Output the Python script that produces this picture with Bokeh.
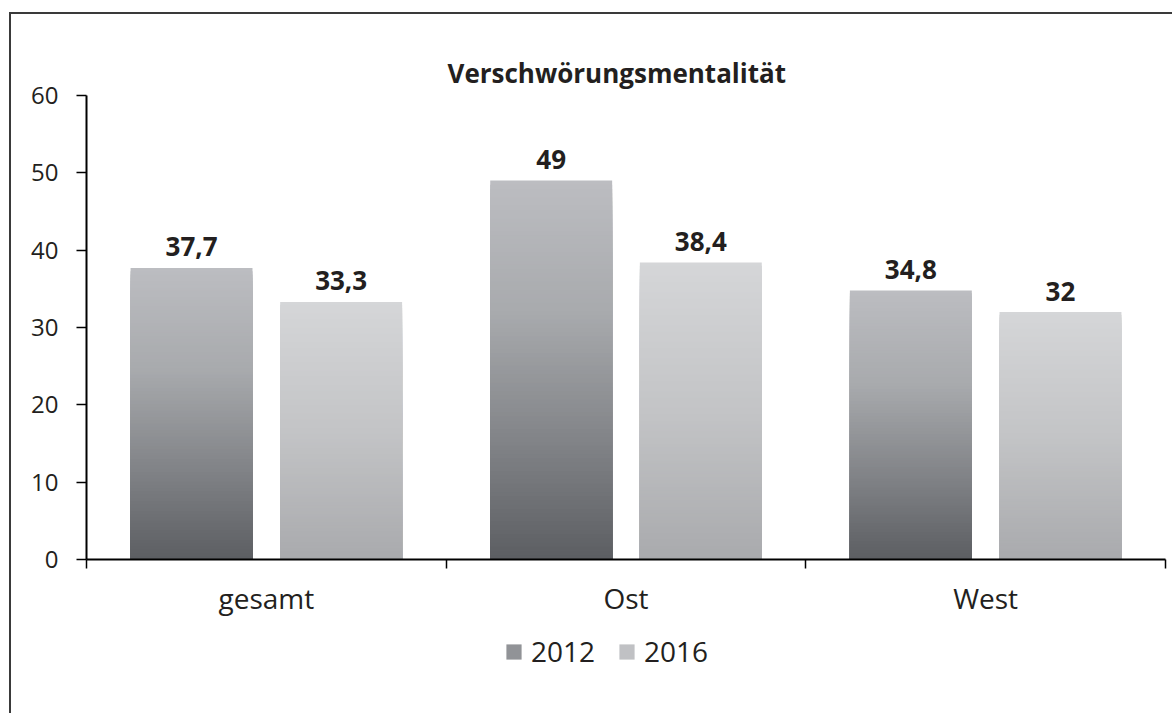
import numpy as np
from bokeh.plotting import figure
from bokeh.layouts import column
from bokeh.models import ColumnDataSource, Range1d, FixedTicker, Legend, LegendItem
from bokeh.embed import file_html
from bokeh.resources import INLINE
from bokeh.core.properties import value

# ---------------- data ----------------
categories = ["gesamt", "Ost", "West"]
series = ["2012", "2016"]
values_2012 = [37.7, 49, 34.8]
values_2016 = [33.3, 38.4, 32]
y_ticks = [0, 10, 20, 30, 40, 50, 60]
title_text = "Verschwörungsmentalität"

# ---------------- style ----------------
FONT = "Open Sans"
grad_2012 = [(0.0, (0xbc, 0xbd, 0xc1)), (0.35, (0xa8, 0xaa, 0xad)),
             (0.7, (0x80, 0x82, 0x86)), (1.0, (0x5c, 0x5e, 0x62))]
grad_2016 = [(0.0, (0xd5, 0xd6, 0xd8)), (0.5, (0xc3, 0xc4, 0xc6)),
             (1.0, (0xa9, 0xaa, 0xad))]
offsets = [-0.208, 0.208]
bar_w = 0.339
N = 90


def interp(stops, t):
    for (t0, c0), (t1, c1) in zip(stops[:-1], stops[1:]):
        if t0 <= t <= t1:
            f = (t - t0) / (t1 - t0) if t1 > t0 else 0
            c = [round(a + (b - a) * f) for a, b in zip(c0, c1)]
            return "#%02x%02x%02x" % tuple(c)
    return "#%02x%02x%02x" % stops[-1][1]


def fmt(v):
    return ("%g" % v).replace(".", ",")


xidx = np.arange(len(categories)) + 0.5
all_vals = [values_2012, values_2016]
grads = [grad_2012, grad_2016]

xs, tops, cols = [], [], []
for k in range(N):
    t = (k + 0.5) / N
    for s in range(len(series)):
        for i, v in enumerate(all_vals[s]):
            xs.append(xidx[i] + offsets[s])
            tops.append(v * (N - k) / N)
            cols.append(interp(grads[s], t))
bars = ColumnDataSource(dict(x=xs, top=tops, color=cols))

lx, ly, lt = [], [], []
for s in range(len(series)):
    for i, v in enumerate(all_vals[s]):
        lx.append(xidx[i] + offsets[s])
        ly.append(v)
        lt.append(fmt(v))
labels = ColumnDataSource(dict(x=lx, y=ly, text=lt))

W = 1161
p = figure(width=W, height=615, output_backend="svg", toolbar_location=None,
           x_range=Range1d(0, len(categories)), y_range=Range1d(0, 60),
           min_border_left=75, min_border_right=7, min_border_top=81, min_border_bottom=70)
p.outline_line_color = None
p.xgrid.visible = False
p.ygrid.visible = False
p.background_fill_color = "white"
p.border_fill_color = "white"

rb = p.vbar(x="x", top="top", bottom=0, width=bar_w, source=bars,
            fill_color="color", line_color=None)

p.text(x="x", y="y", text="text", source=labels, text_align="center",
       text_baseline="alphabetic", y_offset=-21, text_font=value(FONT),
       text_font_style="bold", text_font_size="26px", text_color="#231f20")

# title
p.title.text = title_text
p.title.align = "left"
p.title.offset = 361
p.title.text_font = FONT
p.title.text_font_style = "bold"
p.title.text_font_size = "26px"
p.title.text_color = "#231f20"
p.title.standoff = 10

# y axis
ya = p.yaxis[0]
ya.ticker = FixedTicker(ticks=y_ticks)
ya.major_tick_out = 10
ya.major_tick_in = 0
ya.minor_tick_line_color = None
ya.axis_line_width = 2
ya.axis_line_color = "black"
ya.major_tick_line_width = 1.5
ya.major_tick_line_color = "black"
ya.major_label_text_font = FONT
ya.major_label_text_font_size = "24px"
ya.major_label_text_color = "#231f20"
ya.major_label_standoff = 18

# x axis
xa = p.xaxis[0]
xa.ticker = FixedTicker(ticks=list(xidx), minor_ticks=list(range(len(categories) + 1)))
xa.major_label_overrides = {float(x): c for x, c in zip(xidx, categories)}
xa.major_tick_line_color = None
xa.minor_tick_line_color = "black"
xa.minor_tick_line_width = 1.5
xa.minor_tick_out = 9
xa.minor_tick_in = 0
xa.axis_line_width = 2
xa.axis_line_color = "black"
xa.major_label_text_font = FONT
xa.major_label_text_font_size = "28px"
xa.major_label_text_color = "#231f20"
xa.major_label_standoff = 10

# legend strip below the chart
lf = figure(width=W, height=84, output_backend="svg", toolbar_location=None,
            x_range=Range1d(0, 1), y_range=Range1d(0, 1),
            x_axis_type=None, y_axis_type=None, min_border=0)
lf.outline_line_color = None
lf.xgrid.visible = False
lf.ygrid.visible = False
lf.border_fill_alpha = 0
lf.background_fill_alpha = 0
l1 = lf.vbar(x=[-5], top=[0], bottom=0, width=0.1,
             fill_color=interp(grad_2012, 0.55), line_color=None)
l2 = lf.vbar(x=[-5], top=[0], bottom=0, width=0.1,
             fill_color=interp(grad_2016, 0.55), line_color=None)
legend = Legend(items=[LegendItem(label=series[0], renderers=[l1]),
                       LegendItem(label=series[1], renderers=[l2])],
                orientation="horizontal", location=(418, 43),
                label_text_font=FONT, label_text_font_size="28px",
                label_text_color="#231f20", glyph_width=19, glyph_height=19,
                spacing=22, label_standoff=8, border_line_color=None,
                background_fill_alpha=0, padding=0, margin=0)
lf.add_layout(legend)

layout = column(p, lf, spacing=0,
                styles={"margin-left": "9px", "margin-top": "12px",
                        "border-top": "2px solid #3a3a3a",
                        "border-left": "2px solid #3a3a3a"})

open("out.html", "w").write(file_html(layout, INLINE))
